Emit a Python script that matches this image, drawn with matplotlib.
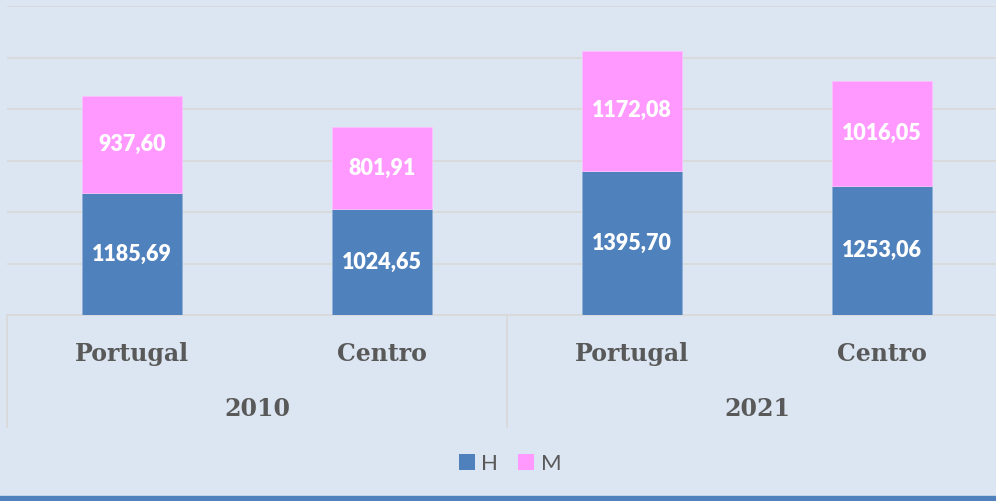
import matplotlib
matplotlib.use("Agg")
import matplotlib.pyplot as plt
from matplotlib.patches import Patch, Rectangle
import matplotlib.transforms as mtransforms

categories = ["Portugal", "Centro", "Portugal", "Centro"]
groups = ["2010", "2021"]
h_values = [1185.69, 1024.65, 1395.70, 1253.06]
m_values = [937.60, 801.91, 1172.08, 1016.05]
series_names = ["H", "M"]

BG = "#dce6f2"
BLUE = "#4f81bd"
PINK = "#ff99ff"
TXT = "#595959"
GRID = "#d9d9d9"

W, H = 996, 501
fig = plt.figure(figsize=(W / 100, H / 100), dpi=100)
fig.patch.set_facecolor(BG)

ax_left, ax_right, ax_top, ax_bot = 7, 1007, 6, 315
ax = fig.add_axes([ax_left / W, (H - ax_bot) / H, (ax_right - ax_left) / W, (ax_bot - ax_top) / H])
ax.set_facecolor(BG)

x = list(range(len(categories)))
b1 = ax.bar(x, h_values, width=0.4, color=BLUE, edgecolor="#8fb0d8", linewidth=0.6, zorder=3)
b2 = ax.bar(x, m_values, width=0.4, bottom=h_values, color=PINK, edgecolor="#ffc0ff", linewidth=0.6, zorder=3)

fmt = lambda v: f"{v:.2f}".replace(".", ",")
lab_font = dict(family=["Lato", "DejaVu Sans"], weight="heavy", size=15.5, color="white")
ax.bar_label(b1, labels=[fmt(v) for v in h_values], label_type="center", **lab_font)
ax.bar_label(b2, labels=[fmt(v) for v in m_values], label_type="center", **lab_font)

ax.set_xlim(-0.5, 3.5)
ax.set_ylim(0, 3000)
ax.set_yticks(range(0, 3001, 500))
ax.yaxis.grid(True, color=GRID, linewidth=1.3, zorder=0)
ax.set_axisbelow(True)
ax.tick_params(left=False, bottom=False, labelleft=False, labelbottom=False)
for s in ["left", "right", "top"]:
    ax.spines[s].set_visible(False)
ax.spines["bottom"].set_color(GRID)
ax.spines["bottom"].set_linewidth(1.3)

axh = ax_bot - ax_top
trans = mtransforms.blended_transform_factory(ax.transData, ax.transAxes)
sep_y = -(427 - ax_bot) / axh
for xs in [-0.5, 1.5, 3.5]:
    ax.plot([xs, xs], [0, sep_y], color=GRID, linewidth=1.3, transform=trans, clip_on=False)

cat_font = dict(family=["DejaVu Serif"], weight="bold", size=17, color=TXT)
for xi, c in zip(x, categories):
    ax.text(xi, -(354 - ax_bot) / axh, c, transform=trans, ha="center", va="center", **cat_font)
for gi, g in enumerate(groups):
    ax.text(gi * 2 + 0.5, -(409 - ax_bot) / axh, g, transform=trans, ha="center", va="center", **cat_font)

handles = [Patch(facecolor=BLUE, label=series_names[0]), Patch(facecolor=PINK, label=series_names[1])]
leg = fig.legend(handles=handles, loc="center", bbox_to_anchor=(510 / W, (H - 464) / H),
                 ncol=2, frameon=False, handlelength=0.72, handleheight=0.72, handletextpad=0.3,
                 columnspacing=0.9, prop=dict(family="Lato", size=16))
for t in leg.get_texts():
    t.set_color(TXT)

fig.patches.append(Rectangle((0, 0), 1, 5 / H, transform=fig.transFigure, color=BLUE, zorder=5))

fig.savefig("out.png", dpi=100, facecolor=BG)
